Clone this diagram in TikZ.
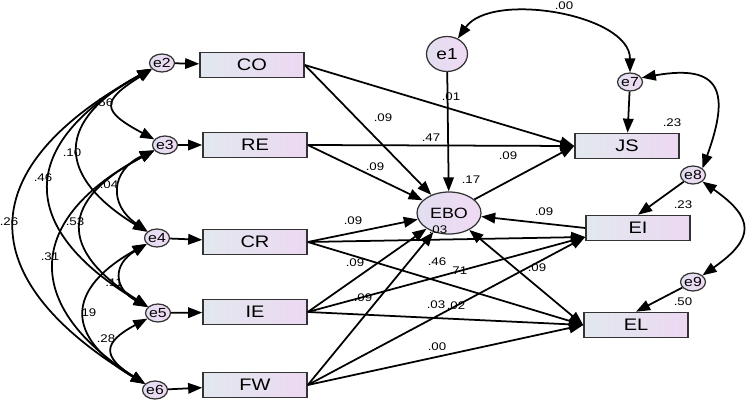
\documentclass[tikz,border=0pt]{standalone}
\usepackage{fontspec}
\setmainfont{Liberation Sans}[FakeStretch=1.2]
\usetikzlibrary{arrows.meta,shapes.geometric,calc}
\definecolor{boxL}{RGB}{226,232,238}
\definecolor{boxR}{RGB}{236,216,242}
\definecolor{errL}{RGB}{226,222,240}
\definecolor{errR}{RGB}{240,218,244}
\tikzset{
  obs/.style={draw=black!80, line width=0.9pt, left color=boxL, right color=boxR,
    minimum width=2.08cm, minimum height=0.5cm, inner sep=0pt, font=\fontsize{9.5}{9.5}\selectfont},
  err/.style={ellipse, draw=black!80, line width=0.7pt, left color=errL, right color=errR,
    minimum width=0.5cm, minimum height=0.36cm, inner sep=0pt, font=\fontsize{7.5}{7.5}\selectfont},
  reg/.style={-{Triangle[length=8pt,width=6pt]}, line width=1pt},
  cov/.style={{Triangle[length=8pt,width=6pt]}-{Triangle[length=8pt,width=6pt]}, line width=1pt},
  lbl/.style={font=\fontsize{6.3}{6.3}\selectfont, inner sep=0pt}
}
\begin{document}
\begin{tikzpicture}[x=0.02cm, y=-0.02cm]
\useasboundingbox (0,0) rectangle (750,405);
\node[obs] (CO) at (252,65) {CO};
\node[obs] (RE) at (255,145) {RE};
\node[obs] (CR) at (255,242) {CR};
\node[obs] (IE) at (255,312) {IE};
\node[obs] (FW) at (255,385) {FW};
\node[obs] (JS) at (627,146) {JS};
\node[obs] (EI) at (638,228) {EI};
\node[obs] (EL) at (636,325) {EL};
\node[err, minimum width=1.28cm, minimum height=0.84cm, font=\fontsize{8.5}{8.5}\selectfont] (EBO) at (449,213) {EBO};
\node[err, minimum width=0.82cm, minimum height=0.7cm, font=\fontsize{9}{9}\selectfont] (e1) at (447,54) {e1};
\node[err] (e2) at (162,63) {e2};
\node[err] (e3) at (165,145) {e3};
\node[err] (e4) at (157,238) {e4};
\node[err] (e5) at (158,313) {e5};
\node[err] (e6) at (155,390) {e6};
\node[err] (e7) at (630,82) {e7};
\node[err] (e8) at (693,175) {e8};
\node[err] (e9) at (693,282) {e9};
\coordinate (EIin) at ($(EI.west)+(0,9)$);

\draw[reg] (e2) -- (CO);
\draw[reg] (e3) -- (RE);
\draw[reg] (e4) -- (CR);
\draw[reg] (e5) -- (IE);
\draw[reg] (e6) -- (FW);
\draw[reg] (e1) -- (EBO);
\draw[reg] (e7) -- (JS);
\draw[reg] (e8) -- (EI.north);
\draw[reg] (e9) -- (EL.north);
\draw[reg] (CO.east) -- (JS.west);
\draw[reg] (CO.east) -- (EBO);
\draw[reg] (RE.east) -- (JS.west);
\draw[reg] (RE.east) -- (EBO);
\draw[reg] (EBO) -- (JS.west);
\draw[reg] (CR.east) -- (EBO);
\draw[reg] (CR.east) -- (EIin);
\draw[reg] (CR.east) -- (EL.west);
\draw[reg] (IE.east) -- (EBO);
\draw[reg] (IE.east) -- (EIin);
\draw[reg] (IE.east) -- (EL.west);
\draw[reg] (FW.east) -- (EBO);
\draw[reg] (FW.east) -- (EIin);
\draw[reg] (FW.east) -- (EL.west);
\draw[reg] (EI.west) -- (EBO);
\draw[cov] (EBO) -- (EL.west);

\draw[cov] (e2) to[bend right=60, looseness=2.2] (e3);
\draw[cov] (e3) to[bend right=60, looseness=1.5] (e4);
\draw[cov] (e4) to[bend right=60, looseness=1.6] (e5);
\draw[cov] (e5) to[bend right=60, looseness=2] (e6);
\draw[cov] (e2) to[bend right=60, looseness=1.7] (e4);
\draw[cov] (e3) to[bend right=60, looseness=1.75] (e5);
\draw[cov] (e4) to[bend right=60, looseness=1.7] (e6);
\draw[cov] (e2) to[bend right=60, looseness=1.65] (e5);
\draw[cov] (e3) to[bend right=60, looseness=1.6] (e6);
\draw[cov] (e2) to[bend right=60, looseness=1.66] (e6);
\draw[cov] (e1) to[out=55, in=90, looseness=0.85] (e7);
\draw[cov] (e7.20) to[out=10, in=70, looseness=1.9] (e8.35);
\draw[cov] (e8) to[out=-35, in=35, looseness=1.75] (e9);

\node[lbl] (r23) at (104,103) {.56};
\node[lbl] (r24) at (72,153) {.10};
\node[lbl] (r25) at (43,178) {.46};
\node[lbl] (r26) at (9,222) {.26};
\node[lbl] (r34) at (109,185) {.04};
\node[lbl] (r35) at (75,222) {.53};
\node[lbl] (r36) at (50,257) {.31};
\node[lbl] (r45) at (114,283) {.11};
\node[lbl] (r46) at (89,313) {19};
\node[lbl] (r56) at (106,339) {.28};
\node[lbl] (r17) at (564,6) {.00};
\node[lbl] (pE1) at (451,97) {.01};
\node[lbl] (sqJS) at (672,123) {.23};
\node[lbl] (sqEBO) at (471,180) {.17};
\node[lbl] (sqEI) at (683,205) {.23};
\node[lbl] (sqEL) at (683,302) {.50};
\node[lbl] (pRJ) at (431,138) {.47};
\node[lbl] (pEJ) at (508,156) {.09};
\node[lbl] (pCOE) at (383,118) {.09};
\node[lbl] (pREE) at (375,167) {.09};
\node[lbl] (pCRE) at (353,221) {.09};
\node[lbl] (pFWE) at (438,230) {.03};
\node[lbl] (pIEE) at (355,263) {.09};
\node[lbl] (pCRL) at (437,262) {.46};
\node[lbl] (pIEI) at (458,271) {.71};
\node[lbl] (pFWx) at (363,298) {.09};
\node[lbl] (pIEL) at (436,305) {.03};
\node[lbl] (pFWI) at (456,306) {.02};
\node[lbl] (pFWL) at (437,347) {.00};
\node[lbl] (pEL) at (537,268) {.09};
\node[lbl] (pEIE) at (544,212) {.09};
\end{tikzpicture}
\end{document}
